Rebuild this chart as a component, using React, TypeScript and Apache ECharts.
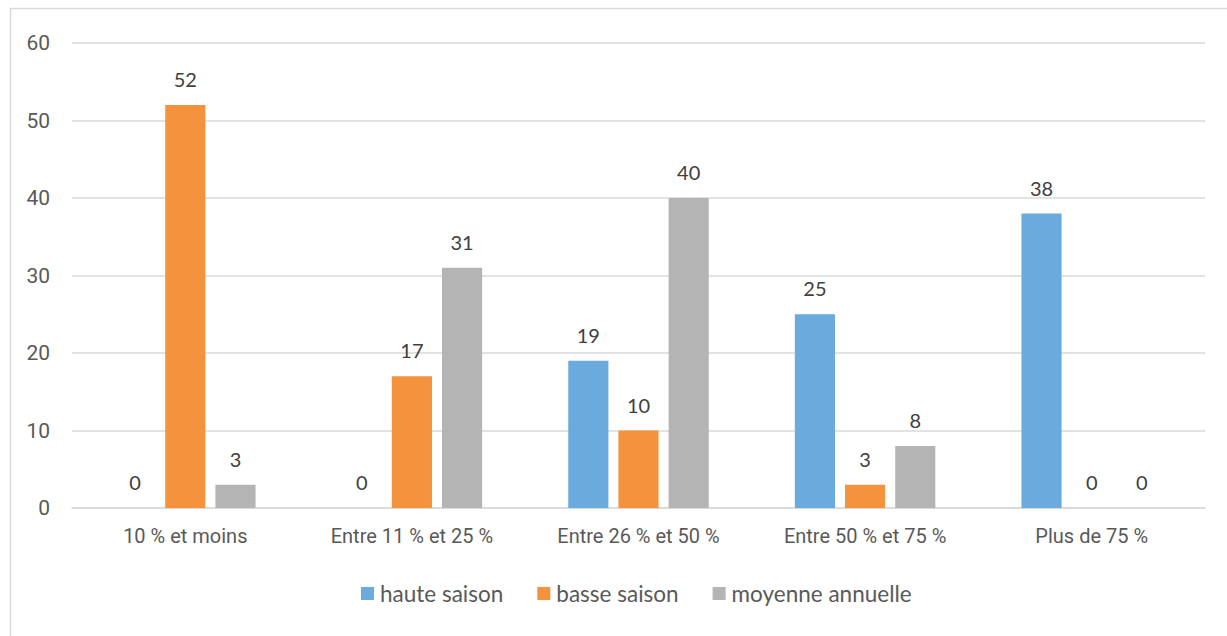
import React, { useEffect, useRef } from "react";
import * as echarts from "echarts";

const categories = ["10 % et moins", "Entre 11 % et 25 %", "Entre 26 % et 50 %", "Entre 50 % et 75 %", "Plus de 75 %"];
const hauteSaison = [0, 0, 19, 25, 38];
const basseSaison = [52, 17, 10, 3, 0];
const moyenneAnnuelle = [3, 31, 40, 8, 0];
const seriesNames = ["haute saison", "basse saison", "moyenne annuelle"];
const colors = ["#6AAADC", "#F4923E", "#B4B4B4"];

export default function App() {
  const ref = useRef<HTMLDivElement>(null);
  useEffect(() => {
    const chart = echarts.init(ref.current!, null, { renderer: "svg" });
    const dataSets = [hauteSaison, basseSaison, moyenneAnnuelle];
    chart.setOption({
      animation: false,
      backgroundColor: "#ffffff",
      graphic: [
        {
          type: "rect",
          shape: { x: 10.5, y: 8.5, width: 1240, height: 660 },
          style: { fill: "none", stroke: "#d9d9d9", lineWidth: 1.5 },
          silent: true,
        },
      ],
      grid: { left: 72, right: 22, top: 43, bottom: 128 },
      legend: {
        bottom: 26,
        left: 356,
        itemWidth: 13,
        itemHeight: 13,
        itemGap: 34,
        icon: "rect",
        textStyle: { fontFamily: "Lato", fontSize: 22.5, color: "#595959", padding: [0, 0, 0, 1] },
        data: seriesNames,
      },
      xAxis: {
        type: "category",
        data: categories,
        axisLine: { lineStyle: { color: "#d9d9d9", width: 1.5 } },
        axisTick: { show: false },
        axisLabel: { fontFamily: "Roboto", fontSize: 20, color: "#595959", margin: 18 },
      },
      yAxis: {
        type: "value",
        min: 0,
        max: 60,
        interval: 10,
        axisLine: { show: false },
        axisTick: { show: false },
        splitLine: { lineStyle: { color: "#d9d9d9", width: 1.5 } },
        axisLabel: { fontFamily: "Roboto", fontSize: 21, color: "#595959", margin: 22 },
      },
      series: dataSets.map((d, i) => ({
        name: seriesNames[i],
        type: "bar",
        data: d,
        barGap: "25%",
        barCategoryGap: "38%",
        itemStyle: { color: colors[i] },
        label: {
          show: true,
          position: "top",
          distance: 16,
          fontFamily: "Lato",
          fontSize: 20,
          color: "#404040",
        },
      })),
    });
    return () => chart.dispose();
  }, []);
  return <div ref={ref} style={{ position: "fixed", left: 0, top: 0, width: 1227, height: 636 }} />;
}
